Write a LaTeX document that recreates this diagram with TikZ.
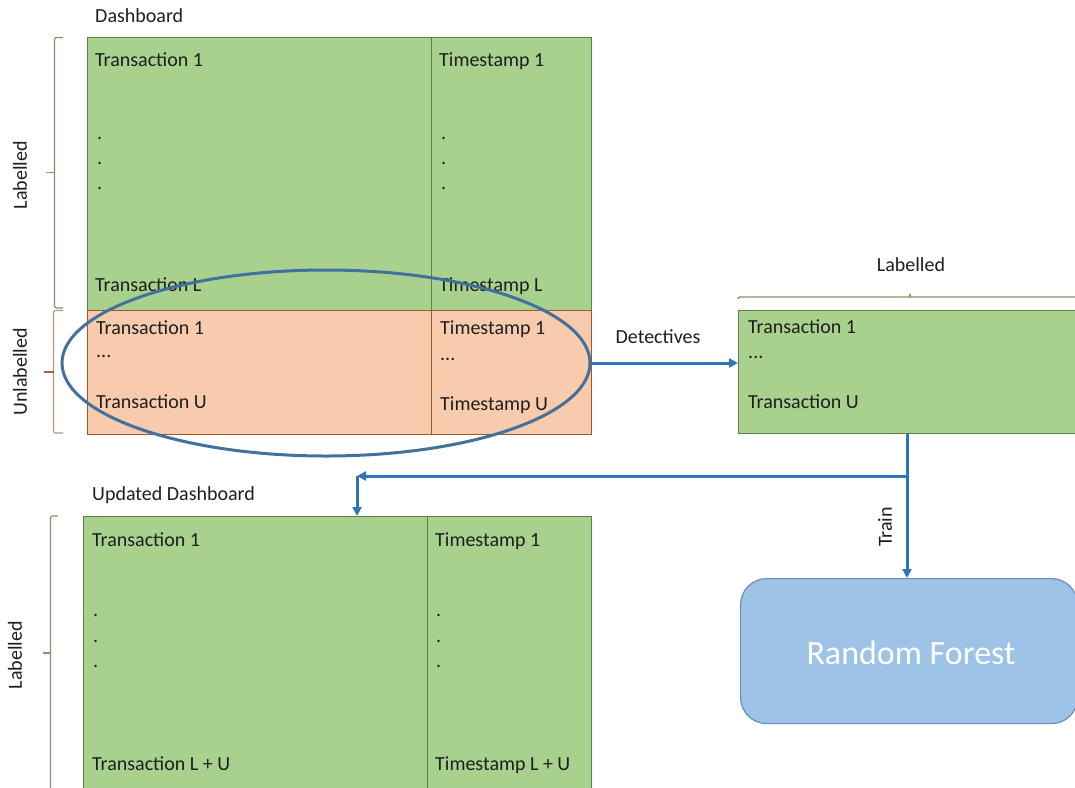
\documentclass[tikz,border=0pt]{standalone}
\usepackage{fontspec}
\setmainfont{Carlito}
\usetikzlibrary{arrows.meta,shapes.geometric}
\definecolor{cellgreen}{HTML}{A9D18E}
\definecolor{edgegreen}{HTML}{5F8040}
\definecolor{cellorange}{HTML}{F8CBAD}
\definecolor{edgeorange}{HTML}{A0582A}
\definecolor{flowblue}{HTML}{2E75B6}
\definecolor{ringblue}{HTML}{41719C}
\definecolor{rfblue}{HTML}{9DC3E6}
\definecolor{rfedge}{HTML}{6C8EBF}
\definecolor{ink}{HTML}{1E1E1E}
\definecolor{bracegreen}{HTML}{7A9A6A}
\definecolor{bracebrown}{HTML}{C09080}
\definecolor{tickbrown}{HTML}{B0623A}
\tikzset{
  gcell/.style={draw=edgegreen, fill=cellgreen, line width=1.2pt, anchor=north west, inner sep=0pt},
  ocell/.style={draw=edgeorange, fill=cellorange, line width=1.2pt, anchor=north west, inner sep=0pt},
  txt/.style={anchor=base west, inner sep=0pt},
  lbl/.style={inner sep=0pt},
  flow/.style={draw=flowblue, line width=3pt, -{Triangle[length=9pt,width=9pt]}},
  bracket/.style={line width=1.4pt, rounded corners=1.5pt},
}
\begin{document}
\begin{tikzpicture}[x=1pt, y=-1pt, font=\fontsize{20}{24}\selectfont, text=ink]
\useasboundingbox (0,0) rectangle (1075,787);
\clip (0,0) rectangle (1075,787);

% ---- dashboard table ----
\node[txt] (dash) at (95,22) {Dashboard};
\node[gcell, minimum width=344pt, minimum height=273pt] (tlL) at (87,37) {};
\node[gcell, minimum width=160pt, minimum height=273pt] (tlR) at (431,37) {};
\node[ocell, minimum width=344pt, minimum height=124pt] (tuL) at (87,310) {};
\node[ocell, minimum width=160pt, minimum height=124pt] (tuR) at (431,310) {};

\node[txt] (a1) at (95,66) {Transaction 1};
\node[txt] (a2) at (97,139) {.};
\node[txt] (a3) at (97,164) {.};
\node[txt] (a4) at (97,189) {.};
\node[txt] (a5) at (95,291) {Transaction L};
\node[txt] (b1) at (439,66) {Timestamp 1};
\node[txt] (b2) at (441,139) {.};
\node[txt] (b3) at (441,164) {.};
\node[txt] (b4) at (441,189) {.};
\node[txt] (b5) at (439,291) {Timestamp L};

\node[txt] (c1) at (96,334) {Transaction 1};
\node[txt] (c2) at (96,357) {...};
\node[txt] (c3) at (96,408) {Transaction U};
\node[txt] (e1) at (440,334) {Timestamp 1};
\node[txt] (e2) at (440,360) {...};
\node[txt] (e3) at (440,410) {Timestamp U};

% brackets on the left
\draw[bracket, bracegreen] (63,37.5) -- (54.5,37.5) -- (54.5,308) -- (63,308);
\draw[line width=1.6pt, bracegreen] (54.5,172.5) -- (46,172.5);
\node[lbl, rotate=90] (lab1) at (20,175) {Labelled};
\draw[bracket, bracebrown] (63,310.5) -- (53.5,310.5) -- (53.5,433) -- (63,433);
\draw[line width=1.6pt, tickbrown] (53.5,372) -- (44,372);
\node[lbl, rotate=90] (unl) at (20,372) {Unlabelled};

% selection ring round the unlabelled rows
\node[ellipse, draw=ringblue, line width=3pt, minimum width=528pt, minimum height=186pt, inner sep=0pt] (sel) at (326,363) {};

% ---- labelled batch ----
\node[lbl, anchor=base] (lab2) at (911,271) {Labelled};
\draw[bracket, bracegreen] (738,299) -- (738,297) -- (1084,297);
\draw[line width=1.4pt, bracegreen] (910,297) -- (910,294);
\node[gcell, minimum width=344pt, minimum height=123pt] (lab) at (738,310) {};
\node[txt] (f1) at (748,333) {Transaction 1};
\node[txt] (f2) at (748,358) {...};
\node[txt] (f3) at (748,408) {Transaction U};

\draw[flow] (sel.east) -- (sel.east -| lab.west);
\node[lbl, anchor=base] (det) at (658,343) {Detectives};

% ---- random forest ----
\node[draw=rfedge, fill=rfblue, rounded corners=26pt, line width=1.2pt,
      minimum width=337pt, minimum height=145pt, anchor=north west, inner sep=0pt] (rf) at (740,578) {};
\node[lbl, text=white, font=\fontsize{34}{40}\selectfont] (rft) at (911,653) {Random Forest};

\coordinate (split) at (907,476);
\coordinate (corner) at (357,476);
\draw[flow] (lab.south -| split) -- (split |- rf.north);
\node[lbl, rotate=90] (train) at (885,527) {Train};

% ---- updated dashboard ----
\node[txt] (udash) at (92,500) {Updated Dashboard};
\node[gcell, minimum width=344pt, minimum height=300pt] (bl) at (83,516) {};
\node[gcell, minimum width=164pt, minimum height=300pt] (br) at (427,516) {};
\node[txt] (g1) at (92,546) {Transaction 1};
\node[txt] (g2) at (93,616) {.};
\node[txt] (g3) at (93,642) {.};
\node[txt] (g4) at (93,667) {.};
\node[txt] (g5) at (92,770) {Transaction L + U};
\node[txt] (h1) at (435,546) {Timestamp 1};
\node[txt] (h2) at (436,616) {.};
\node[txt] (h3) at (436,642) {.};
\node[txt] (h4) at (436,667) {.};
\node[txt] (h5) at (435,770) {Timestamp L + U};

\draw[bracket, bracegreen] (58,516) -- (50.5,516) -- (50.5,800);
\draw[line width=1.6pt, bracegreen] (50.5,653) -- (43,653);
\node[lbl, rotate=90] (lab3) at (15,655) {Labelled};

\draw[flow] (split) -- (corner);
\draw[flow] (corner) -- (corner |- bl.north);
\end{tikzpicture}
\end{document}
